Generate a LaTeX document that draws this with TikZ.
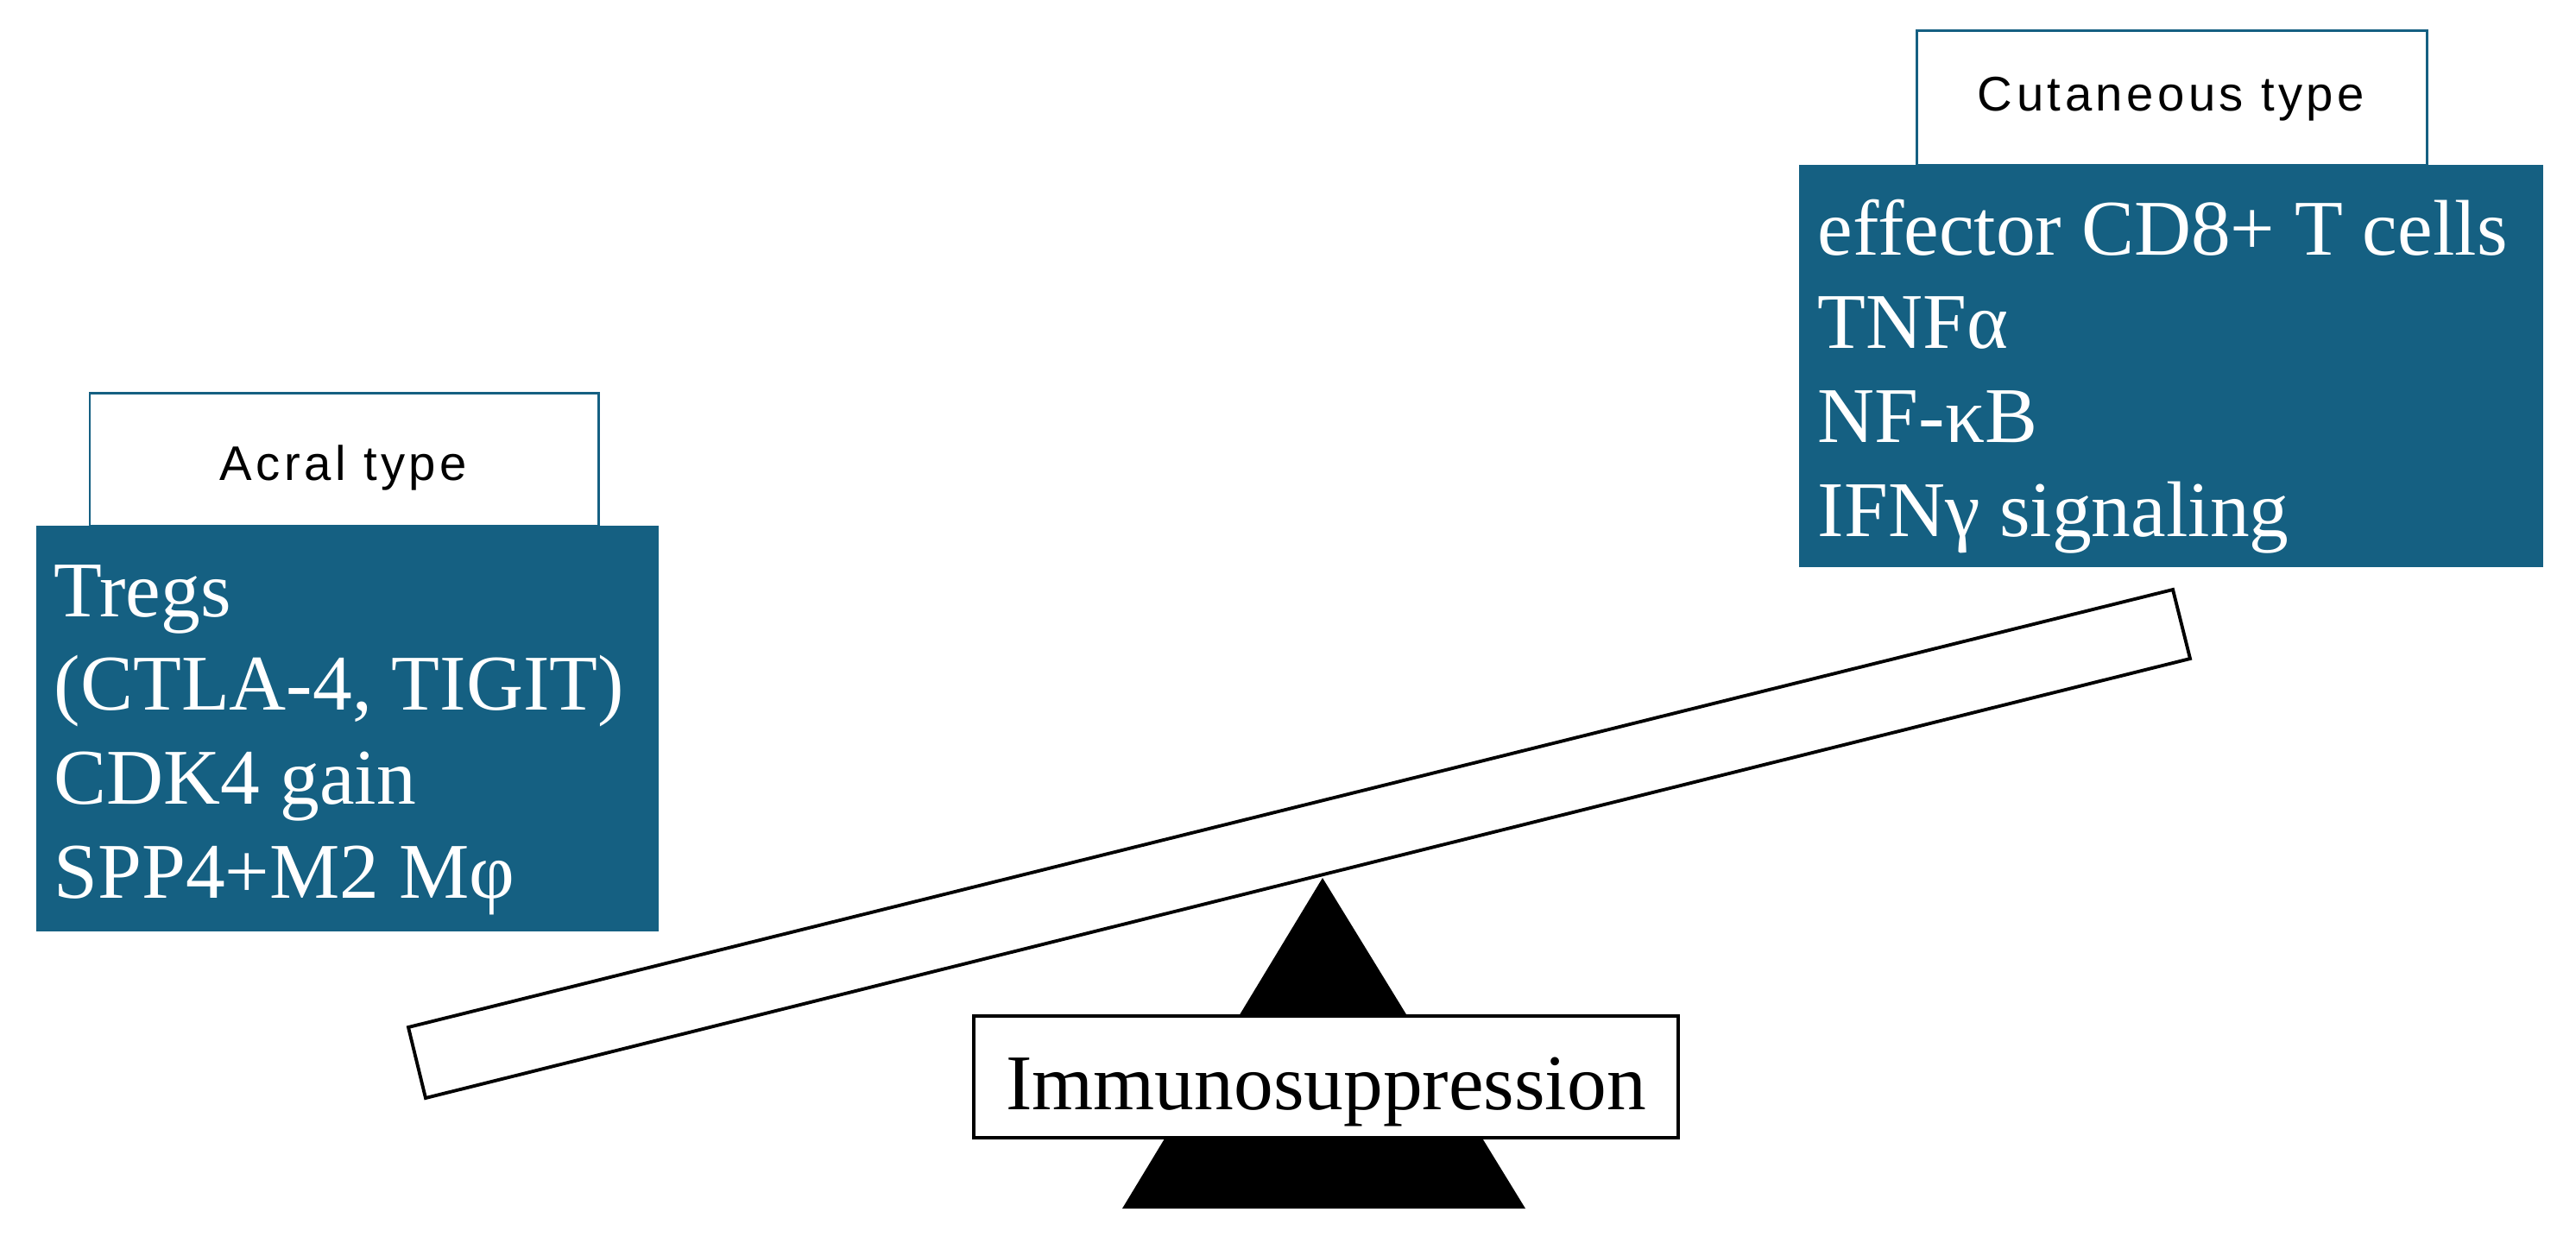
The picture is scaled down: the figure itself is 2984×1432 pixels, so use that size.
\documentclass[tikz,border=0pt]{standalone}
\usepackage{fontspec}
\setmainfont{Liberation Serif}
\newfontfamily\tabfamily[LetterSpace=8]{Liberation Sans}
\usepackage{tikz}

\definecolor{panelblue}{HTML}{156082}

\begin{document}
\begin{tikzpicture}[x=0.01cm, y=-0.01cm,
  tab/.style={draw=panelblue, fill=white, line width=0.85pt},
  panel/.style={fill=panelblue},
  tablabel/.style={anchor=base, inner sep=0pt, font=\tabfamily\fontsize{16}{19}\selectfont},
  item/.style={anchor=base west, inner sep=0pt, text=white, font=\fontsize{26}{31}\selectfont},
  outline/.style={draw=black, fill=white, line width=1.1pt}]

  \useasboundingbox (0,0) rectangle (2984,1432);

  % acral side
  \begin{scope}
  \draw[tab] (104,455) rectangle (693,609);
  \fill[panel] (42,609) rectangle (763,1079);
  \draw (398,556) node[name=acral, tablabel] {Acral type};
  \foreach \txt [count=\i from 0] in {Tregs, {(CTLA-4, TIGIT)}, CDK4 gain, SPP4+M2 Mφ}
    \draw (62,714+108.7*\i) node[name=acral-\i, item] {\txt};
  \end{scope}

  % cutaneous side
  \begin{scope}
  \draw[tab] (2220,35) rectangle (2811,191);
  \fill[panel] (2084,191) rectangle (2946,657);
  \draw (2515,128) node[name=cutan, tablabel] {Cutaneous type};
  \foreach \txt [count=\i from 0] in {effector CD8+ T cells, TNFα, NF-κB, IFNγ signaling}
    \draw (2105,295+108.7*\i) node[name=cutan-\i, item] {\txt};
  \end{scope}

  % seesaw
  \fill (1532,1017) coordinate (apex) -- (1767,1400) -- (1300,1400) -- cycle;
  \draw[outline] (473,1190) coordinate (b1) -- (2517,683) coordinate (b2)
    -- (2537,763) coordinate (b3) -- (493,1272) coordinate (b4) -- cycle;
  \draw[outline] (1128,1177) rectangle (1944,1318);
  \draw (1536,1285) node[name=immuno, anchor=base, inner sep=0pt,
    font=\fontsize{26}{31}\selectfont] {Immunosuppression};

\end{tikzpicture}
\end{document}
